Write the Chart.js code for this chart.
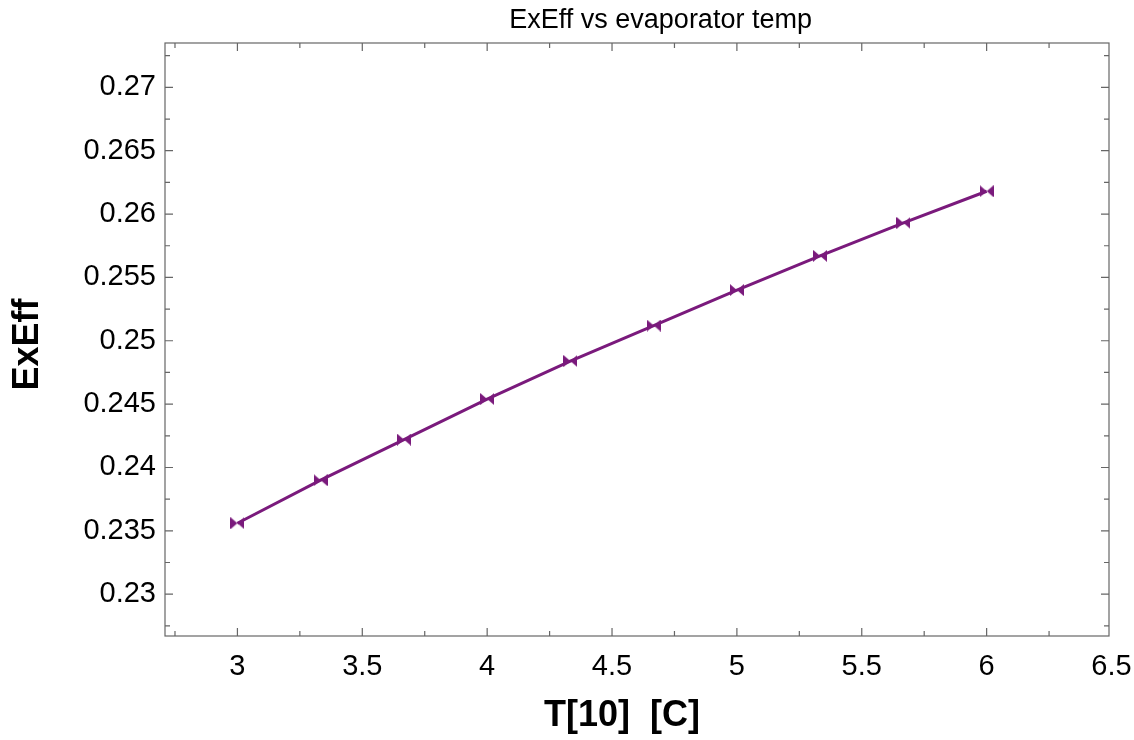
<!DOCTYPE html>
<html lang="en">
  <head>
    <meta charset="utf-8" />
    <title>ExEff vs evaporator temp</title>
    <style>
      body { margin: 0; background: #fff; }
      #wrap { width: 1134px; height: 740px; }
    </style>
  </head>
  <body>
<div id="wrap"><canvas id="chartExEff"></canvas></div>

<script src="https://cdn.jsdelivr.net/npm/chart.js@4.4.1/dist/chart.umd.min.js"></script>

<script>

// data
let tempValues = [3, 3.333, 3.667, 4, 4.333, 4.667, 5, 5.333, 5.667, 6]
let exEffValues = [0.2356, 0.2390, 0.2422, 0.2454, 0.2484, 0.2512, 0.2540, 0.2567, 0.2593, 0.2618]

let xTicks = [3, 3.5, 4, 4.5, 5, 5.5, 6, 6.5]
let yTicks = [0.23, 0.235, 0.24, 0.245, 0.25, 0.255, 0.26, 0.265, 0.27]

let chartTitle = 'ExEff vs evaporator temp'

let fontFamily = '"Liberation Sans", Arial, sans-serif'
let purple = '#7a1a7c'

// bow-tie marker like the original plot
function bowtie() {
  let c = document.createElement('canvas')
  c.width = 14
  c.height = 12
  let g = c.getContext('2d')
  g.fillStyle = purple
  g.beginPath()
  g.moveTo(0, 0); g.lineTo(7, 6); g.lineTo(0, 12); g.closePath()
  g.moveTo(14, 0); g.lineTo(7, 6); g.lineTo(14, 12); g.closePath()
  g.fill()
  return c
}

// frame + inward ticks on all four sides, plus the title (sits a bit right of centre)
let frameTicks = {
  id: 'frameTicks',
  afterDraw(chart) {
    let ctx = chart.ctx
    let a = chart.chartArea
    let xs = chart.scales.x
    let ys = chart.scales.y
    ctx.save()
    ctx.strokeStyle = '#666'
    ctx.lineWidth = 1.2
    ctx.strokeRect(a.left, a.top, a.right - a.left, a.bottom - a.top)

    let xStep = 0.25
    for (let v = Math.ceil(xs.min / xStep) * xStep; v <= xs.max + 1e-9; v += xStep) {
      let px = xs.getPixelForValue(v)
      let major = Math.abs(v / 0.5 - Math.round(v / 0.5)) < 1e-6
      let len = major ? 8 : 5
      ctx.beginPath()
      ctx.moveTo(px, a.bottom); ctx.lineTo(px, a.bottom - len)
      ctx.moveTo(px, a.top); ctx.lineTo(px, a.top + len)
      ctx.stroke()
    }
    let yStep = 0.0025
    for (let v = Math.ceil(ys.min / yStep) * yStep; v <= ys.max + 1e-9; v += yStep) {
      let py = ys.getPixelForValue(v)
      let major = Math.abs(v / 0.005 - Math.round(v / 0.005)) < 1e-6
      let len = major ? 8 : 5
      ctx.beginPath()
      ctx.moveTo(a.left, py); ctx.lineTo(a.left + len, py)
      ctx.moveTo(a.right, py); ctx.lineTo(a.right - len, py)
      ctx.stroke()
    }

    ctx.fillStyle = '#000'
    ctx.font = '27px ' + fontFamily
    ctx.textAlign = 'center'
    ctx.textBaseline = 'alphabetic'
    ctx.fillText(chartTitle, a.left + (a.right - a.left) * 0.525, 28)
    ctx.restore()
  }
}

let config = {
  type: 'line',
  data: {
    datasets: [
      {
        label: 'ExEff',
        data: tempValues.map((t, i) => ({ x: t, y: exEffValues[i] })),
        borderColor: purple,
        backgroundColor: purple,
        borderWidth: 3,
        pointStyle: bowtie(),
        tension: 0,
        fill: false
      }
    ]
  },
  options: {
    responsive: true,
    maintainAspectRatio: false,
    animation: false,
    layout: { padding: { left: 0, right: 25, top: 43, bottom: 0 } },
    plugins: {
      legend: { display: false },
      tooltip: { enabled: false },
      title: { display: false }
    },
    scales: {
      x: {
        type: 'linear',
        min: 2.71,
        max: 6.49,
        afterBuildTicks: s => { s.ticks = xTicks.map(v => ({ value: v })) },
        afterFit: s => { s.height = 104; s.paddingLeft = 0; s.paddingRight = 0 },
        grid: { display: false },
        border: { display: false },
        ticks: {
          color: '#000',
          padding: 6,
          maxRotation: 0,
          autoSkip: false,
          font: { family: fontFamily, size: 29 },
          callback: v => String(v)
        },
        title: {
          display: true,
          text: 'T[10]  [C]   ',
          color: '#000',
          font: { family: fontFamily, size: 36, weight: 'bold' },
          padding: { top: 0, bottom: 2 }
        }
      },
      y: {
        type: 'linear',
        min: 0.2267,
        max: 0.2735,
        afterBuildTicks: s => { s.ticks = yTicks.map(v => ({ value: v })) },
        afterFit: s => { s.width = 165 },
        grid: { display: false },
        border: { display: false },
        ticks: {
          color: '#000',
          padding: 1,
          autoSkip: false,
          font: { family: fontFamily, size: 29 },
          callback: v => String(v)
        },
        title: {
          display: true,
          text: 'ExEff ',
          color: '#000',
          font: { family: fontFamily, size: 36, weight: 'bold' },
          padding: { top: 6, bottom: 0 }
        }
      }
    }
  },
  plugins: [frameTicks]
}

window.onload = function () {
  let ctx = document.getElementById('chartExEff').getContext('2d')
  window.exEffChart = new Chart(ctx, config)
}
</script>
  </body>
</html>
